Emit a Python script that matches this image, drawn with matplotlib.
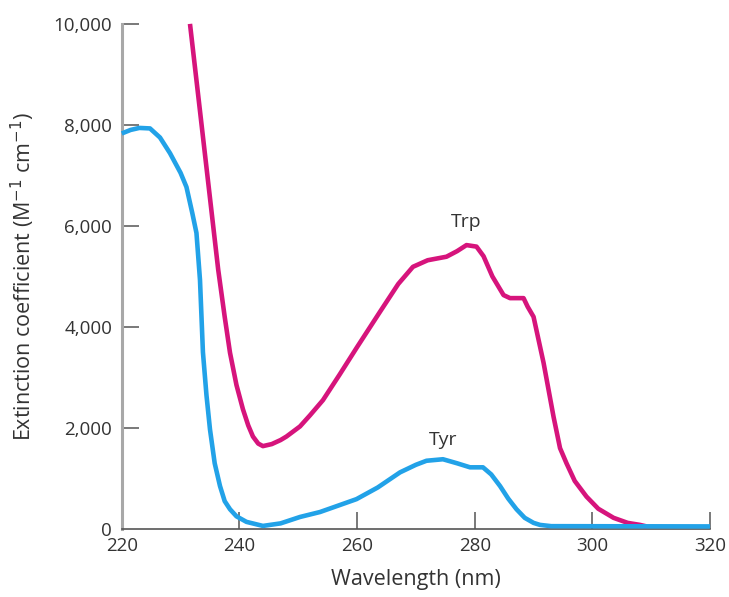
import matplotlib
matplotlib.use("Agg")
import matplotlib.pyplot as plt
from matplotlib.ticker import FuncFormatter

# wavelength (nm) / extinction coefficient (M^-1 cm^-1)
trp_nm = [231.6, 236.4, 237.5, 238.4, 239.5, 240.6, 241.5, 242.3, 243.2, 244.0,
          245.5, 247.0, 248.0, 250.3, 252.0, 254.2, 257.0, 260.0, 263.9, 267.0,
          269.5, 272.0, 275.2, 277.0, 278.6, 280.3, 281.5, 283.0, 284.9, 286.0,
          288.3, 289.0, 290.0, 291.7, 293.4, 294.5, 295.6, 297.0, 299.0, 301.0,
          303.6, 306.0, 308.1, 309.2]
trp_eps = [10000, 5130, 4200, 3490, 2850, 2370, 2050, 1830, 1690, 1640,
           1680, 1760, 1830, 2030, 2250, 2550, 3050, 3600, 4300, 4850,
           5190, 5320, 5390, 5500, 5620, 5590, 5400, 5000, 4630, 4570,
           4570, 4400, 4200, 3290, 2220, 1600, 1300, 950, 640, 400,
           220, 120, 80, 50]

tyr_nm = [220.0, 221.5, 223.0, 224.8, 226.5, 228.2, 230.0, 231.0, 232.0, 232.7,
          233.3, 233.8, 234.4, 235.0, 235.8, 236.7, 237.5, 238.4, 239.5, 241.2,
          244.0, 247.0, 250.3, 253.7, 256.5, 259.9, 263.5, 267.3, 270.0, 271.8,
          274.6, 277.0, 279.2, 281.4, 282.8, 284.3, 285.7, 287.1, 288.5, 290.0,
          291.1, 293.0, 320.0]
tyr_eps = [7830, 7900, 7940, 7930, 7750, 7440, 7050, 6770, 6250, 5860,
           4930, 3500, 2650, 1970, 1300, 850, 550, 390, 250, 140,
           60, 110, 237, 335, 450, 590, 820, 1120, 1270, 1350,
           1380, 1300, 1220, 1220, 1080, 850, 600, 390, 220, 120,
           80, 55, 50]

x_ticks = [220, 240, 260, 280, 300, 320]
y_ticks = [0, 2000, 4000, 6000, 8000, 10000]

plt.rcParams['font.family'] = ['Open Sans', 'DejaVu Sans']

fig = plt.figure(figsize=(7.29, 5.97), dpi=100)
ax = fig.add_axes([0.167, 0.114, 0.807, 0.846])

ax.plot(trp_nm, trp_eps, color='#d6147c', lw=3.3, solid_capstyle='butt',
        solid_joinstyle='round', clip_on=False, zorder=3)
ax.plot(tyr_nm, tyr_eps, color='#22a2e8', lw=3.3, solid_capstyle='butt',
        solid_joinstyle='round', clip_on=False, zorder=4)

ax.text(278.6, 6080, 'Trp', ha='center', va='center', fontsize=14, color='#333333')
ax.text(274.6, 1760, 'Tyr', ha='center', va='center', fontsize=14, color='#333333')

ax.set_xlim(220, 320)
ax.set_ylim(0, 10000)
ax.set_xticks(x_ticks)
ax.set_yticks(y_ticks)
ax.yaxis.set_major_formatter(FuncFormatter(lambda v, p: f'{int(v):,}'))

for s in ['top', 'right']:
    ax.spines[s].set_visible(False)
ax.spines['left'].set_color('#a8a8a8')
ax.spines['left'].set_linewidth(2.2)
ax.spines['bottom'].set_color('#555555')
ax.spines['bottom'].set_linewidth(1.2)

ax.tick_params(axis='both', direction='in', length=12, width=1.1, color='#555555',
               labelsize=13.5, labelcolor='#333333', pad=7)
ax.tick_params(axis='x', pad=6)
ax.xaxis.get_major_ticks()[0].tick1line.set_visible(False)
ax.yaxis.get_major_ticks()[0].tick1line.set_visible(False)

ax.set_xlabel('Wavelength (nm)', fontsize=15.5, color='#333333', labelpad=10)
ax.set_ylabel('Extinction coefficient (M$^{-1}$ cm$^{-1}$)', fontsize=15.5,
              color='#333333', labelpad=12)

fig.savefig('out.png', dpi=100)
